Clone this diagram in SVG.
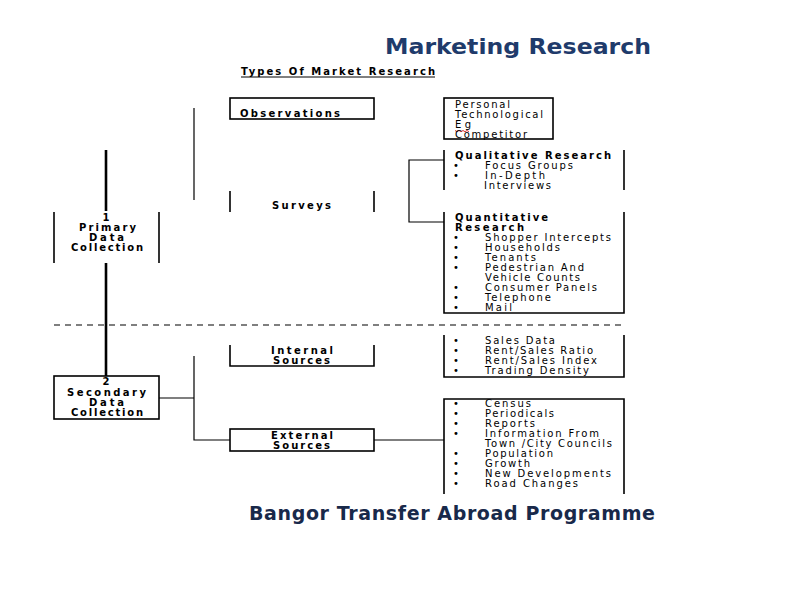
<svg xmlns="http://www.w3.org/2000/svg" width="794" height="595" viewBox="0 0 794 595">
<style>
.t{font-family:"DejaVu Sans","Liberation Sans",sans-serif;font-size:10px;fill:#000}
.b{font-weight:bold}
.box{fill:none;stroke:#000;stroke-width:1.6}
.con{fill:none;stroke:#000;stroke-width:1.2}
.main{fill:none;stroke:#000;stroke-width:2.6}
.title{font-family:"DejaVu Sans","Liberation Sans",sans-serif;font-weight:bold;fill:#1F3B6B}
</style>
<rect width="794" height="595" fill="#fff"/>
<text class="title" x="385" y="54" font-size="22" textLength="266" lengthAdjust="spacingAndGlyphs">Marketing Research</text>
<text class="title" x="249" y="520" font-size="19" style="fill:#18294A" textLength="406" lengthAdjust="spacing">Bangor Transfer Abroad Programme</text>
<g id="heading">
<text class="t b" x="241" y="75" textLength="194" lengthAdjust="spacing">Types Of Market Research</text>
<line x1="241" y1="77" x2="435" y2="77" stroke="#000" stroke-width="1"/>
</g>
<g id="connectors">
<line class="main" x1="106" y1="150" x2="106" y2="211"/>
<line class="main" x1="106" y1="263" x2="106" y2="376"/>
<line class="con" x1="194" y1="108" x2="194" y2="200"/>
<polyline class="con" points="444,160 409,160 409,222 444,222"/>
<line class="con" x1="159" y1="398" x2="194" y2="398"/>
<polyline class="con" points="194,356 194,440 230,440"/>
<line class="con" x1="374" y1="440" x2="444" y2="440"/>
<line x1="54" y1="325" x2="624" y2="325" stroke="#000" stroke-width="1.2" stroke-dasharray="6,5"/>
</g>
<g id="primary">
<line class="box" x1="54" y1="212" x2="54" y2="263"/>
<line class="box" x1="159" y1="212" x2="159" y2="263"/>
<text class="t b" x="106" y="221" text-anchor="middle">1</text>
<text class="t b" x="79" y="231" textLength="57" lengthAdjust="spacing">Primary</text>
<text class="t b" x="89" y="241" textLength="35" lengthAdjust="spacing">Data</text>
<text class="t b" x="71" y="251" textLength="72" lengthAdjust="spacing">Collection</text>
</g>
<g id="secondary">
<rect class="box" x="54" y="376" width="105" height="43"/>
<text class="t b" x="106" y="385" text-anchor="middle">2</text>
<text class="t b" x="67" y="396" textLength="79" lengthAdjust="spacing">Secondary</text>
<text class="t b" x="89" y="406" textLength="35" lengthAdjust="spacing">Data</text>
<text class="t b" x="71" y="416" textLength="72" lengthAdjust="spacing">Collection</text>
</g>
<g id="observations">
<rect class="box" x="230" y="98" width="144" height="21"/>
<text class="t b" x="240" y="117" textLength="100" lengthAdjust="spacing">Observations</text>
</g>
<g id="surveys">
<line class="box" x1="230" y1="191" x2="230" y2="212"/>
<line class="box" x1="374" y1="191" x2="374" y2="212"/>
<text class="t b" x="272" y="209" textLength="59" lengthAdjust="spacing">Surveys</text>
</g>
<g id="observation-types">
<rect class="box" x="444" y="98" width="109" height="41"/>
<text class="t" x="455" y="108" textLength="55" lengthAdjust="spacing">Personal</text>
<text class="t" x="455" y="118" textLength="88" lengthAdjust="spacing">Technological</text>
<text class="t" x="455" y="128" textLength="16" lengthAdjust="spacing">Eg</text>
<path d="M455,130.5 l2,1.2 l2,-1.2 l2,1.2 l2,-1.2 l2,1.2 l2,-1.2 l2,1.2" fill="none" stroke="#c00" stroke-width="0.8"/>
<text class="t" x="455" y="138" textLength="72" lengthAdjust="spacing">Competitor</text>
</g>
<g id="qualitative">
<line class="box" x1="444" y1="150" x2="444" y2="190"/>
<line class="box" x1="624" y1="150" x2="624" y2="190"/>
<text class="t b" x="455" y="159" textLength="156" lengthAdjust="spacing">Qualitative Research</text>
<text class="t" x="453" y="169">•</text>
<text class="t" x="485" y="169" textLength="88" lengthAdjust="spacing">Focus Groups</text>
<text class="t" x="453" y="179">•</text>
<text class="t" x="485" y="179" textLength="60" lengthAdjust="spacing">In-Depth</text>
<text class="t" x="484" y="189" textLength="67" lengthAdjust="spacing">Interviews</text>
</g>
<g id="quantitative">
<polyline class="box" points="444,212 444,313 624,313 624,212"/>
<text class="t b" x="455" y="221" textLength="93" lengthAdjust="spacing">Quantitative</text>
<text class="t b" x="455" y="231" textLength="69" lengthAdjust="spacing">Research</text>
<text class="t" x="453" y="241">•</text>
<text class="t" x="485" y="241" textLength="126" lengthAdjust="spacing">Shopper Intercepts</text>
<text class="t" x="453" y="251">•</text>
<text class="t" x="485" y="251" textLength="75" lengthAdjust="spacing">Households</text>
<text class="t" x="453" y="261">•</text>
<text class="t" x="485" y="261" textLength="51" lengthAdjust="spacing">Tenants</text>
<text class="t" x="453" y="271">•</text>
<text class="t" x="485" y="271" textLength="99" lengthAdjust="spacing">Pedestrian And</text>
<text class="t" x="485" y="281" textLength="95" lengthAdjust="spacing">Vehicle Counts</text>
<text class="t" x="453" y="291">•</text>
<text class="t" x="485" y="291" textLength="112" lengthAdjust="spacing">Consumer Panels</text>
<text class="t" x="453" y="301">•</text>
<text class="t" x="485" y="301" textLength="66" lengthAdjust="spacing">Telephone</text>
<text class="t" x="453" y="311">•</text>
<text class="t" x="485" y="311" textLength="27" lengthAdjust="spacing">Mail</text>
</g>
<g id="internal">
<polyline class="box" points="230,345 230,366 374,366 374,345"/>
<text class="t b" x="271" y="354" textLength="62" lengthAdjust="spacing">Internal</text>
<text class="t b" x="273" y="364" textLength="57" lengthAdjust="spacing">Sources</text>
</g>
<g id="internal-data">
<polyline class="box" points="444,335 444,377 624,377 624,335"/>
<text class="t" x="453" y="344">•</text>
<text class="t" x="485" y="344" textLength="70" lengthAdjust="spacing">Sales Data</text>
<text class="t" x="453" y="354">•</text>
<text class="t" x="485" y="354" textLength="108" lengthAdjust="spacing">Rent/Sales Ratio</text>
<text class="t" x="453" y="364">•</text>
<text class="t" x="485" y="364" textLength="112" lengthAdjust="spacing">Rent/Sales Index</text>
<text class="t" x="453" y="374">•</text>
<text class="t" x="485" y="374" textLength="104" lengthAdjust="spacing">Trading Density</text>
</g>
<g id="external">
<rect class="box" x="230" y="429" width="144" height="22"/>
<text class="t b" x="271" y="439" textLength="62" lengthAdjust="spacing">External</text>
<text class="t b" x="273" y="449" textLength="57" lengthAdjust="spacing">Sources</text>
</g>
<g id="external-data">
<polyline class="box" points="444,494 444,399 624,399 624,494"/>
<text class="t" x="453" y="407">•</text>
<text class="t" x="485" y="407" textLength="46" lengthAdjust="spacing">Census</text>
<text class="t" x="453" y="417">•</text>
<text class="t" x="485" y="417" textLength="69" lengthAdjust="spacing">Periodicals</text>
<text class="t" x="453" y="427">•</text>
<text class="t" x="485" y="427" textLength="50" lengthAdjust="spacing">Reports</text>
<text class="t" x="453" y="437">•</text>
<text class="t" x="485" y="437" textLength="114" lengthAdjust="spacing">Information From</text>
<text class="t" x="485" y="447" textLength="127" lengthAdjust="spacing">Town /City Councils</text>
<text class="t" x="453" y="457">•</text>
<text class="t" x="485" y="457" textLength="68" lengthAdjust="spacing">Population</text>
<text class="t" x="453" y="467">•</text>
<text class="t" x="485" y="467" textLength="45" lengthAdjust="spacing">Growth</text>
<text class="t" x="453" y="477">•</text>
<text class="t" x="485" y="477" textLength="126" lengthAdjust="spacing">New Developments</text>
<text class="t" x="453" y="487">•</text>
<text class="t" x="485" y="487" textLength="93" lengthAdjust="spacing">Road Changes</text>
</g>
</svg>
